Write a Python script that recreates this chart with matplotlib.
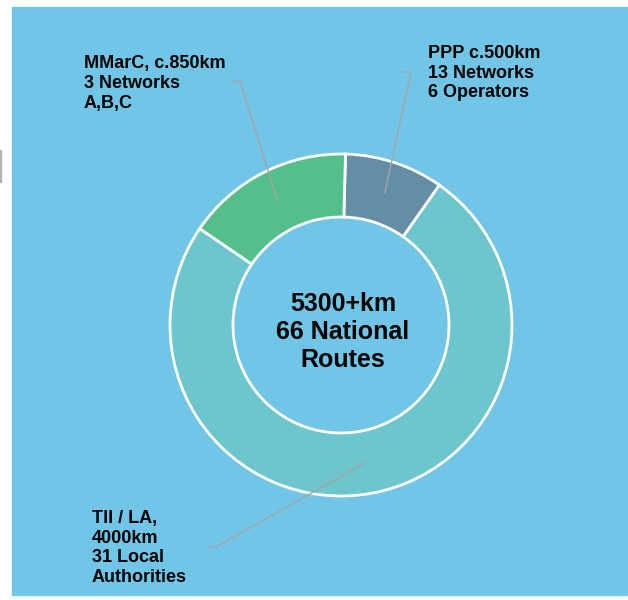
import matplotlib
matplotlib.use("Agg")
import matplotlib.pyplot as plt
import numpy as np

plt.rcParams['font.family'] = ['Liberation Sans', 'DejaVu Sans']

# data, clockwise from top
segments = ['PPP', 'TII / LA', 'MMarC']
km = [500, 4000, 850]
colours = ['#648da6', '#6dc5cd', '#54bf8a']
labels = ['PPP c.500km\n13 Networks\n6 Operators',
          'TII / LA,\n4000km\n31 Local\nAuthorities',
          'MMarC, c.850km\n3 Networks\nA,B,C']
centre_text = '5300+km\n66 National\nRoutes'

W, H = 628, 600
bg = '#71c5e6'

fig = plt.figure(figsize=(W / 100, H / 100), dpi=100)
fig.patch.set_facecolor('white')
ax = fig.add_axes([0, 0, 1, 1])

# blue panel
ax.add_patch(plt.Rectangle((12, H - 595), W - 12, 588, color=bg, zorder=0))
# bit of grey cut off at the left edge
ax.add_patch(plt.Rectangle((0, H - 182), 1, 32, color='#b4b4b4', zorder=0))

cx, cy = 341, H - 325
r_out, r_in = 171, 108
wedges, _ = ax.pie(km, colors=colours, startangle=88.5, counterclock=False,
                   center=(cx, cy), radius=r_out,
                   wedgeprops=dict(width=r_out - r_in, edgecolor='white', linewidth=2))
for w in wedges:
    w.set_zorder(2)

ax.text(cx + 2, cy - 7, centre_text, ha='center', va='center', fontsize=18,
        fontweight='bold', linespacing=1.2, zorder=3)

# label text position (left x, middle y) and leader elbow (x0, x1, y)
text_pos = [(428, 73), (92, 548), (84, 83.5)]
elbows = [(402, 411, 72), (208, 216, 547), (233, 240, 81)]

r_mid = (r_out + r_in) / 2
for w, lab, (tx, ty), (ex0, ex1, ey) in zip(wedges, labels, text_pos, elbows):
    ang = np.deg2rad((w.theta1 + w.theta2) / 2)
    px = cx + r_mid * np.cos(ang)
    py = cy + r_mid * np.sin(ang)
    ax.plot([ex0, ex1, px], [H - ey, H - ey, py], color='#a5a5a5', lw=1, zorder=4)
    ax.text(tx, H - ty, lab, ha='left', va='center', fontsize=13,
            fontweight='bold', linespacing=1.2, zorder=3)

ax.set_xlim(0, W)
ax.set_ylim(0, H)
ax.set_aspect('equal')
ax.axis('off')

fig.savefig('out.png', dpi=100, facecolor='white')
